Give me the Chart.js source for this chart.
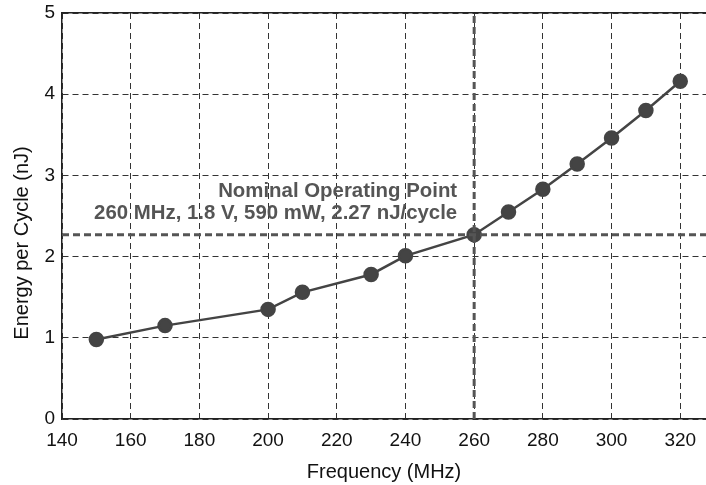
<!DOCTYPE html>
<html>
<head>
<meta charset="utf-8">
<script src="https://cdn.jsdelivr.net/npm/chart.js@4.4.1/dist/chart.umd.min.js"></script>
<style>
  html, body { margin: 0; padding: 0; background: #fff; }
  #wrap { width: 706px; height: 485px; }
</style>
</head>
<body>
<div id="wrap"><canvas id="energyChart" width="706" height="485"></canvas></div>
<script>
const freqMHz = [150, 170, 200, 210, 230, 240, 260, 270, 280, 290, 300, 310, 320];
const energyNJ = [0.98, 1.15, 1.35, 1.56, 1.78, 2.01, 2.27, 2.55, 2.83, 3.14, 3.46, 3.80, 4.16];

// Axis ticks
const xTicks = [140, 160, 180, 200, 220, 240, 260, 280, 300, 320];
const yTicks = [0, 1, 2, 3, 4, 5];

// Nominal operating point
const nominalFreq = 260;
const nominalEnergy = 2.27;
const nominalLabel = ['Nominal Operating Point', '260 MHz, 1.8 V, 590 mW, 2.27 nJ/cycle'];
const yTitle = 'Energy per Cycle (nJ)';

const X_MIN = 140, X_MAX = 327.5, Y_MIN = 0, Y_MAX = 5;
const FONT = '"Liberation Sans", Arial, Helvetica, sans-serif';

// annotation text near the nominal point + the y axis title (sits a bit low in the original)
const extraText = {
  id: 'extraText',
  afterDatasetsDraw(chart) {
    const { ctx, scales, chartArea } = chart;
    const xr = scales.x.getPixelForValue(nominalFreq) - 17;
    const y0 = scales.y.getPixelForValue(nominalEnergy);
    ctx.save();
    ctx.fillStyle = '#555';
    ctx.font = 'bold 20.4px ' + FONT;
    ctx.textAlign = 'right';
    ctx.textBaseline = 'alphabetic';
    ctx.fillText(nominalLabel[0], xr, y0 - 38);
    ctx.fillText(nominalLabel[1], xr, y0 - 16);
    ctx.restore();

    ctx.save();
    ctx.translate(22, (chartArea.top + chartArea.bottom) / 2 + 27);
    ctx.rotate(-Math.PI / 2);
    ctx.fillStyle = '#111';
    ctx.font = '20px ' + FONT;
    ctx.textAlign = 'center';
    ctx.textBaseline = 'middle';
    ctx.fillText(yTitle, 0, 0);
    ctx.restore();
  }
};

new Chart(document.getElementById('energyChart').getContext('2d'), {
  type: 'scatter',
  data: {
    datasets: [
      {
        label: 'nominal-v',
        data: [{ x: nominalFreq, y: Y_MIN }, { x: nominalFreq, y: Y_MAX }],
        showLine: true,
        borderColor: '#555',
        borderWidth: 3,
        borderDash: [7, 4],
        pointRadius: 0,
        order: 0
      },
      {
        label: 'nominal-h',
        data: [{ x: X_MIN, y: nominalEnergy }, { x: X_MAX, y: nominalEnergy }],
        showLine: true,
        borderColor: '#555',
        borderWidth: 3,
        borderDash: [7, 4],
        pointRadius: 0,
        order: 0
      },
      {
        label: 'Energy per Cycle',
        data: freqMHz.map((f, i) => ({ x: f, y: energyNJ[i] })),
        showLine: true,
        borderColor: '#444',
        borderWidth: 2.5,
        backgroundColor: '#444',
        pointBackgroundColor: '#444',
        pointBorderColor: '#444',
        pointRadius: 6.5,
        pointHoverRadius: 6.5,
        order: 1
      }
    ]
  },
  options: {
    responsive: false,
    animation: false,
    layout: { autoPadding: false, padding: { top: 13, right: 0, left: 0, bottom: 0 } },
    plugins: {
      legend: { display: false },
      tooltip: { enabled: false }
    },
    scales: {
      x: {
        type: 'linear',
        min: X_MIN,
        max: X_MAX,
        afterBuildTicks: (s) => { s.ticks = xTicks.map(v => ({ value: v })); },
        afterFit: (s) => { s.height = 66; s.paddingLeft = 0; s.paddingRight = 0; },
        ticks: { color: '#111', font: { family: FONT, size: 19 }, padding: 10, maxRotation: 0 },
        grid: { color: '#333', lineWidth: 1, drawTicks: false },
        border: { display: true, color: '#222', width: 1.5, dash: [6, 4] },
        title: {
          display: true,
          text: 'Frequency (MHz)',
          color: '#111',
          font: { family: FONT, size: 20 },
          padding: { top: 0, bottom: 1 }
        }
      },
      xTop: {
        type: 'linear',
        position: 'top',
        min: X_MIN,
        max: X_MAX,
        afterFit: (s) => { s.height = 0; s.paddingLeft = 0; s.paddingRight = 0; },
        ticks: { display: false },
        grid: { display: false, drawTicks: false },
        border: { display: true, color: '#222', width: 1.5 }
      },
      y: {
        type: 'linear',
        min: Y_MIN,
        max: Y_MAX,
        afterBuildTicks: (s) => { s.ticks = yTicks.map(v => ({ value: v })); },
        afterFit: (s) => { s.width = 62; s.paddingTop = 0; s.paddingBottom = 0; },
        ticks: { color: '#111', font: { family: FONT, size: 19 }, padding: 7 },
        grid: { color: '#333', lineWidth: 1, drawTicks: false },
        border: { display: true, color: '#222', width: 1.5, dash: [6, 4] }
      }
    }
  },
  plugins: [extraText]
});
</script>
</body>
</html>
